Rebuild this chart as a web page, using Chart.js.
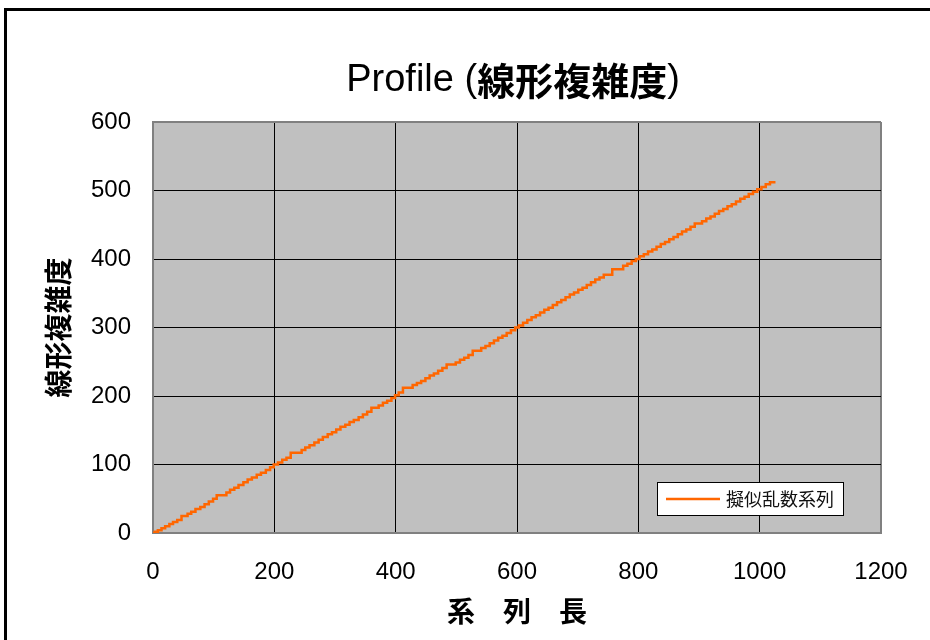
<!DOCTYPE html>
<html>
<head>
<meta charset="utf-8">
<script src="https://cdn.jsdelivr.net/npm/chart.js@4.4.0/dist/chart.umd.min.js"></script>
<style>
  body { margin: 0; background: #fff; overflow: hidden; }
  canvas { display: block; }
</style>
</head>
<body>
<canvas id="profileChart" width="930" height="640"></canvas>
<script>
// 系列長 n で線形複雑度 L が上がる点 (階段の角)
const stepN = [0, 3, 8, 14, 20, 27, 33, 40, 47, 57, 63, 70, 78, 85, 92, 99, 105, 121, 127, 134,
  141, 149, 156, 163, 171, 178, 186, 193, 199, 206, 213, 220, 227, 245, 251, 258, 266, 273, 280, 288,
  295, 302, 309, 317, 324, 331, 339, 346, 353, 360, 372, 379, 386, 393, 399, 405, 412, 428, 435, 442,
  449, 456, 463, 470, 477, 484, 499, 506, 513, 520, 527, 541, 548, 555, 562, 569, 576, 583, 590, 597,
  603, 610, 617, 624, 631, 638, 645, 652, 659, 666, 673, 680, 687, 694, 701, 708, 715, 722, 729, 736,
  743, 757, 775, 782, 789, 796, 802, 809, 816, 823, 830, 837, 844, 851, 858, 865, 872, 879, 886, 893,
  905, 912, 919, 926, 933, 940, 947, 954, 961, 968, 975, 982, 989, 996, 1003, 1010, 1017, 1024];
const stepL = [0, 2, 4, 7, 10, 13, 16, 19, 25, 28, 31, 35, 38, 42, 46, 50, 55, 59, 63, 66,
  70, 74, 78, 81, 85, 88, 92, 96, 100, 103, 107, 110, 117, 121, 125, 128, 132, 136, 140, 144,
  147, 151, 155, 158, 162, 165, 169, 173, 177, 183, 186, 190, 193, 197, 201, 205, 212, 216, 219, 222,
  226, 230, 233, 237, 241, 246, 249, 253, 256, 260, 266, 270, 273, 277, 281, 285, 288, 292, 296, 300,
  303, 307, 311, 315, 318, 322, 326, 329, 333, 337, 340, 344, 348, 351, 355, 358, 362, 366, 370, 373,
  377, 385, 390, 393, 397, 400, 404, 407, 411, 414, 418, 422, 425, 429, 432, 436, 440, 443, 447, 452,
  455, 459, 462, 466, 470, 473, 477, 480, 484, 488, 491, 495, 498, 502, 505, 509, 512, 514];

const seriesName = '擬似乱数系列';
const chartTitle = ['Profile (', '線形複雑度', ')'];
const xTitle = '系　列　長';
const yTitle = '線形複雑度';

const points = stepN.map((n, i) => ({ x: n, y: stepL[i] }));

const edgeColor = '#808080';

// 外枠・プロット背景・タイトル・凡例
const decor = {
    id: 'decor',
    beforeDraw(chart) {
        const ctx = chart.ctx;
        const a = chart.chartArea;
        ctx.save();
        ctx.fillStyle = '#fff';
        ctx.fillRect(0, 0, chart.width, chart.height);
        ctx.lineWidth = 3;
        ctx.strokeStyle = '#000';
        ctx.strokeRect(5.5, 9.5, 2000, 2000);
        ctx.fillStyle = '#c0c0c0';
        ctx.fillRect(a.left, a.top, a.right - a.left, a.bottom - a.top);
        ctx.restore();
    },
    afterDraw(chart) {
        const ctx = chart.ctx;
        ctx.save();
        // タイトル
        const fonts = ['38px "Liberation Sans", "Noto Sans CJK JP"',
                       'bold 38px "Noto Sans CJK JP"',
                       '38px "Liberation Sans", "Noto Sans CJK JP"'];
        let total = 0;
        const widths = chartTitle.map((t, i) => {
            ctx.font = fonts[i];
            const w = ctx.measureText(t).width;
            total += w;
            return w;
        });
        let x = 513 - total / 2;
        ctx.fillStyle = '#000';
        ctx.textBaseline = 'middle';
        ctx.textAlign = 'left';
        chartTitle.forEach((t, i) => {
            ctx.font = fonts[i];
            ctx.fillText(t, x, 81);
            x += widths[i];
        });

        // 凡例
        const ds = chart.data.datasets[0];
        ctx.fillStyle = '#fff';
        ctx.fillRect(657, 482, 186, 33);
        ctx.strokeStyle = '#000';
        ctx.lineWidth = 1;
        ctx.strokeRect(657.5, 482.5, 186, 33);
        ctx.strokeStyle = ds.borderColor;
        ctx.lineWidth = 2.5;
        ctx.beginPath();
        ctx.moveTo(666, 499);
        ctx.lineTo(720, 499);
        ctx.stroke();
        ctx.fillStyle = '#111';
        ctx.font = '18px "Noto Sans CJK JP"';
        ctx.fillText(ds.label, 726, 499);
        ctx.restore();
    }
};

function gridColor(max) {
    return c => (c.tick && (c.tick.value === 0 || c.tick.value === max)) ? edgeColor : '#000';
}
function gridWidth(max) {
    return c => (c.tick && (c.tick.value === 0 || c.tick.value === max)) ? 2 : 1;
}

new Chart(document.getElementById('profileChart'), {
    type: 'line',
    data: {
        datasets: [{
            label: seriesName,
            data: points,
            borderColor: '#ff6600',
            borderWidth: 2.5,
            pointRadius: 0,
            stepped: true,
            fill: false
        }]
    },
    options: {
        responsive: false,
        animation: false,
        layout: { padding: { top: 122, right: 49, bottom: 0, left: 0 } },
        plugins: {
            legend: { display: false },
            title: { display: false },
            tooltip: { enabled: false }
        },
        scales: {
            x: {
                type: 'linear',
                min: 0,
                max: 1200,
                afterFit: s => { s.height = 107; s.paddingRight = 0; },
                ticks: {
                    stepSize: 200,
                    padding: 25,
                    color: '#000',
                    font: { family: '"Liberation Sans"', size: 24 },
                    callback: v => String(v)
                },
                grid: { color: gridColor(1200), lineWidth: gridWidth(1200), drawTicks: false },
                border: { color: edgeColor, width: 2 },
                title: {
                    display: true,
                    text: xTitle,
                    color: '#000',
                    padding: { top: 0, bottom: 12 },
                    font: { family: '"Noto Sans CJK JP"', size: 28, weight: 'bold' }
                }
            },
            y: {
                min: 0,
                max: 600,
                afterFit: s => { s.width = 153; },
                ticks: {
                    stepSize: 100,
                    padding: 22,
                    color: '#000',
                    font: { family: '"Liberation Sans"', size: 24 },
                    callback: v => String(v)
                },
                grid: { color: gridColor(600), lineWidth: gridWidth(600), drawTicks: false },
                border: { color: edgeColor, width: 2 },
                title: {
                    display: true,
                    text: yTitle,
                    color: '#000',
                    padding: { top: 42, bottom: 0 },
                    font: { family: '"Noto Sans CJK JP"', size: 28, weight: 'bold' }
                }
            }
        }
    },
    plugins: [decor]
});
</script>
</body>
</html>
